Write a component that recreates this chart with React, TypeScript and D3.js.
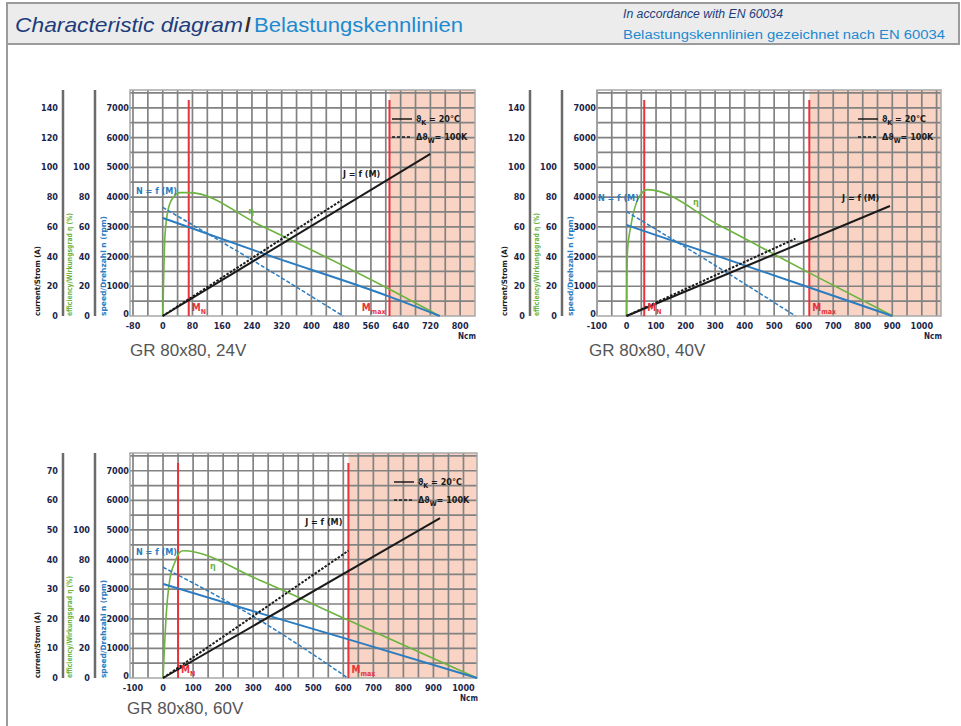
import * as d3 from "d3";
import React, { useEffect, useRef } from "react";

type Pt = [number, number];

// x = torque M (Ncm); speed n (rpm), current J (A), efficiency η (%)
// GR 80x80, 24V
const speed24: Pt[] = [[0, 3300], [275, 2080], [610, 650], [745, 0]];
const speedHot24: Pt[] = [[0, 3650], [262, 1720], [485, 0]];
const eff24: Pt[] = [[0, 0], [2, 20], [6, 54], [15, 72], [29, 80], [47, 83], [73, 83], [262, 61], [610, 18], [745, 0]];
const current24: Pt[] = [[0, 0], [720, 109]];
const currentHot24: Pt[] = [[0, 0], [482, 78]];
const xTicks24 = [-80, 0, 80, 160, 240, 320, 400, 480, 560, 640, 720, 800];
const currentTicks24 = [0, 20, 40, 60, 80, 100, 120, 140];

// GR 80x80, 40V
const speed40: Pt[] = [[0, 3060], [316, 1990], [619, 960], [900, 0]];
const speedHot40: Pt[] = [[0, 3510], [362, 1320], [572, 0]];
const eff40: Pt[] = [[0, 0], [3, 43], [15, 61], [37, 78], [53, 83], [71, 85], [314, 61], [619, 29], [902, 0]];
const current40: Pt[] = [[0, 0], [892, 74]];
const currentHot40: Pt[] = [[0, 0], [572, 52]];
const xTicks40 = [-100, 0, 100, 200, 300, 400, 500, 600, 700, 800, 900, 1000];
const currentTicks40 = [0, 20, 40, 60, 80, 100, 120, 140];

// GR 80x80, 60V
const speed60: Pt[] = [[0, 3180], [322, 2190], [617, 1306], [1045, 0]];
const speedHot60: Pt[] = [[0, 3740], [330, 1900], [615, 0]];
const eff60: Pt[] = [[0, 0], [11, 44], [22, 66], [39, 78], [56, 85], [67, 86], [322, 66], [617, 39], [1045, 0]];
const current60: Pt[] = [[0, 0], [922, 54]];
const currentHot60: Pt[] = [[0, 0], [617, 43]];
const xTicks60 = [-100, 0, 100, 200, 300, 400, 500, 600, 700, 800, 900, 1000];
const currentTicks60 = [0, 10, 20, 30, 40, 50, 60, 70];

const effTicks = [0, 20, 40, 60, 80, 100];
const speedTicks = [0, 1000, 2000, 3000, 4000, 5000, 6000, 7000];

const FONT_C = "'Liberation Sans Narrow', 'DejaVu Sans Condensed', 'Liberation Sans', sans-serif";
const FONT = "'Liberation Sans', Arial, sans-serif";
const NAVY = "#1b1f4a";
const BLUE = "#2b7cc0";
const GREEN = "#6cb33f";
const RED = "#e8323c";
const SPEED_MAX = 7600;

const panels = [
    {
        title: "GR 80x80, 24V", titleX: 130, titleY: 356,
        left: 130, top: 90, right: 475, bottom: 316, xDomain: [-88, 840], gridStep: 40,
        xTicks: xTicks24, currentTicks: currentTicks24, curFactor: 50,
        speed: speed24, speedHot: speedHot24, eff: eff24, current: current24, currentHot: currentHot24,
        mN: 70, mMax: 610, mMaxLeft: true,
        jLabel: [485, 4765], nLabel: [-72, 4200], etaLabel: [230, 3530],
        titleLens: [70, 103, 100],
    },
    {
        title: "GR 80x80, 40V", titleX: 589, titleY: 356,
        left: 597, top: 90, right: 941, bottom: 316, xDomain: [-100, 1065], gridStep: 50,
        xTicks: xTicks40, currentTicks: currentTicks40, curFactor: 50,
        speed: speed40, speedHot: speedHot40, eff: eff40, current: current40, currentHot: currentHot40,
        mN: 60, mMax: 619, mMaxLeft: false,
        jLabel: [730, 3968], nLabel: [-97, 3968], etaLabel: [225, 3843],
        titleLens: [70, 103, 100],
    },
    {
        title: "GR 80x80, 60V", titleX: 127, titleY: 714,
        left: 130, top: 453, right: 477, bottom: 678, xDomain: [-110, 1045], gridStep: 50,
        xTicks: xTicks60, currentTicks: currentTicks60, curFactor: 100,
        speed: speed60, speedHot: speedHot60, eff: eff60, current: current60, currentHot: currentHot60,
        mN: 50, mMax: 617, mMaxLeft: false,
        jLabel: [473, 5280], nLabel: [-90, 4267], etaLabel: [156, 3784],
        titleLens: [66, 102, 98],
    },
];

const drawPanel = (svg, p) => {
    const g = svg.append("g");
    const x = d3.scaleLinear().domain(p.xDomain).range([p.left, p.right]);
    const y = d3.scaleLinear().domain([0, SPEED_MAX]).range([p.bottom, p.top]);
    const yCur = d3.scaleLinear().domain([0, SPEED_MAX / p.curFactor]).range([p.bottom, p.top]);
    const yEff = d3.scaleLinear().domain([0, SPEED_MAX / 50]).range([p.bottom, p.top]);

    // plot area + overload zone
    g.append("rect").attr("x", p.left).attr("y", p.top)
        .attr("width", p.right - p.left).attr("height", p.bottom - p.top).attr("fill", "#fff");
    g.append("rect").attr("x", x(p.mMax)).attr("y", p.top)
        .attr("width", p.right - x(p.mMax)).attr("height", p.bottom - p.top).attr("fill", "#f9d4c4");

    // grid
    const vLines = d3.range(Math.ceil(p.xDomain[0] / p.gridStep) * p.gridStep, p.xDomain[1], p.gridStep);
    g.selectAll(".vgrid").data(vLines).enter().append("line")
        .attr("x1", d => x(d)).attr("x2", d => x(d))
        .attr("y1", p.top).attr("y2", p.bottom)
        .attr("stroke", "#828282").attr("stroke-width", 1.7);
    g.selectAll(".hgrid").data(d3.range(500, SPEED_MAX, 500)).enter().append("line")
        .attr("x1", p.left).attr("x2", p.right)
        .attr("y1", d => y(d)).attr("y2", d => y(d))
        .attr("stroke", "#828282").attr("stroke-width", 1.7);
    g.append("rect").attr("x", p.left).attr("y", p.top)
        .attr("width", p.right - p.left).attr("height", p.bottom - p.top)
        .attr("fill", "none").attr("stroke", "#a8a8a8").attr("stroke-width", 1.5);

    // left axes
    const ax1 = p.left - 67;
    const ax2 = p.left - 35;
    [ax1, ax2].forEach(ax => {
        g.append("line").attr("x1", ax).attr("x2", ax).attr("y1", p.top).attr("y2", p.bottom)
            .attr("stroke", "#6b6b6b").attr("stroke-width", 2.5);
    });
    const tickText = (sel) => sel
        .attr("font-family", FONT_C).attr("font-weight", "bold").attr("font-size", 9)
        .attr("fill", NAVY).attr("dominant-baseline", "central");
    g.selectAll(".curTick").data(p.currentTicks).enter().append("text")
        .call(tickText).attr("text-anchor", "end")
        .attr("x", ax1 - 5).attr("y", d => yCur(d)).text(d => d);
    g.selectAll(".effTick").data(effTicks).enter().append("text")
        .call(tickText).attr("text-anchor", "end")
        .attr("x", ax2 - 5).attr("y", d => yEff(d)).text(d => d);
    g.selectAll(".spdTick").data(speedTicks).enter().append("text")
        .call(tickText).attr("text-anchor", "end")
        .attr("x", p.left - 1).attr("y", d => y(d) - (d === 0 ? 2 : 0)).text(d => d);
    g.selectAll(".xTick").data(p.xTicks).enter().append("text")
        .call(tickText).attr("text-anchor", "middle")
        .attr("x", d => x(d)).attr("y", p.bottom + 10).text(d => d);
    g.append("text").call(tickText).attr("font-size", 8).attr("text-anchor", "middle")
        .attr("x", p.right - 8).attr("y", p.bottom + 20).text("Ncm");

    // rotated axis titles
    const axisTitles = [
        { text: "current/Strom (A)", x: p.left - 93, color: "#1a1a1a" },
        { text: "efficiency/Wirkungsgrad \u03b7 (%)", x: p.left - 61, color: GREEN },
        { text: "speed/Drehzahl n (rpm)", x: p.left - 27, color: BLUE },
    ];
    axisTitles.forEach((t, i) => {
        g.append("text")
            .attr("transform", `translate(${t.x},${p.bottom}) rotate(-90)`)
            .attr("font-family", FONT_C).attr("font-weight", "bold").attr("font-size", 7.5)
            .attr("fill", t.color).attr("dominant-baseline", "central")
            .attr("textLength", p.titleLens[i]).attr("lengthAdjust", "spacingAndGlyphs")
            .text(t.text);
    });

    // rated / max torque lines
    [p.mN, p.mMax].forEach(m => {
        g.append("line").attr("x1", x(m)).attr("x2", x(m)).attr("y1", p.top + 10).attr("y2", p.bottom)
            .attr("stroke", RED).attr("stroke-width", 2);
    });

    // curves
    const line = (sc) => d3.line<Pt>().x(d => x(d[0])).y(d => sc(d[1])).curve(d3.curveMonotoneX);
    const curves = [
        { data: p.eff, sc: yEff, color: GREEN, w: 1.6, dash: null },
        { data: p.speedHot, sc: y, color: BLUE, w: 1.5, dash: "4,2" },
        { data: p.speed, sc: y, color: BLUE, w: 2, dash: null },
        { data: p.currentHot, sc: yCur, color: "#1a1a1a", w: 2, dash: "2.5,1.5" },
        { data: p.current, sc: yCur, color: "#1a1a1a", w: 2, dash: null },
    ];
    curves.forEach(c => {
        g.append("path").datum(c.data).attr("d", line(c.sc))
            .attr("fill", "none").attr("stroke", c.color).attr("stroke-width", c.w)
            .attr("stroke-dasharray", c.dash);
    });

    // curve labels
    const label = (pos, txt, color) => g.append("text")
        .attr("x", x(pos[0])).attr("y", y(pos[1]))
        .attr("font-family", FONT_C).attr("font-weight", "bold").attr("font-size", 9)
        .attr("fill", color).attr("dominant-baseline", "central").text(txt);
    label(p.jLabel, "J = f (M)", "#1a1a1a");
    label(p.nLabel, "N = f (M)", BLUE);
    label(p.etaLabel, "\u03b7", GREEN);

    // M_N and M_max labels
    const mLabel = (m, sub, anchorLeft) => {
        const t = g.append("text")
            .attr("x", anchorLeft ? x(m) - 4 : x(m) + 3).attr("y", p.bottom - 5)
            .attr("text-anchor", anchorLeft ? "end" : "start")
            .attr("font-family", FONT_C).attr("font-weight", "bold").attr("font-size", 10).attr("fill", RED);
        t.append("tspan").text("M");
        t.append("tspan").attr("dy", 2.5).attr("font-size", 7).text(sub);
    };
    mLabel(p.mN, "N", false);
    mLabel(p.mMax, "max", p.mMaxLeft);

    // legend
    const lg = [
        { dash: null, sym: "\u03d1", sub: "K", rest: " = 20\u00b0C" },
        { dash: "3,2", sym: "\u0394\u03d1", sub: "W", rest: "= 100K" },
    ];
    lg.forEach((l, i) => {
        const ly = p.top + 29 + i * 18;
        g.append("line").attr("x1", p.right - 83).attr("x2", p.right - 63).attr("y1", ly).attr("y2", ly)
            .attr("stroke", "#1a1a1a").attr("stroke-width", 1.5).attr("stroke-dasharray", l.dash);
        const t = g.append("text").attr("x", p.right - 59).attr("y", ly + 3)
            .attr("font-family", FONT_C).attr("font-weight", "bold").attr("font-size", 9).attr("fill", "#1a1a1a");
        t.append("tspan").text(l.sym);
        t.append("tspan").attr("dy", 2.5).attr("font-size", 7).text(l.sub);
        t.append("tspan").attr("dy", -2.5).text(l.rest);
    });

    // panel title
    g.append("text").attr("x", p.titleX).attr("y", p.titleY)
        .attr("font-family", FONT).attr("font-size", 17).attr("fill", "#555").text(p.title);
};

const App = () => {
    const svgRef = useRef(null);

    useEffect(() => {
        const svg = d3.select(svgRef.current);
        svg.selectAll("*").remove();

        // header bar
        svg.append("rect").attr("x", 7).attr("y", 3).attr("width", 952).attr("height", 41)
            .attr("fill", "#ececec").attr("stroke", "#9b9b9b").attr("stroke-width", 2);
        svg.append("line").attr("x1", 7).attr("x2", 7).attr("y1", 44).attr("y2", 726)
            .attr("stroke", "#9b9b9b").attr("stroke-width", 2);
        svg.append("text").attr("x", 15).attr("y", 32).attr("font-family", FONT).attr("font-size", 21)
            .attr("font-style", "italic").attr("fill", "#1d3d7c")
            .attr("textLength", 228).attr("lengthAdjust", "spacingAndGlyphs").text("Characteristic diagram");
        svg.append("text").attr("x", 245).attr("y", 32).attr("font-family", FONT).attr("font-size", 21)
            .attr("font-weight", "bold").attr("fill", "#3d2c1e").text("/");
        svg.append("text").attr("x", 254).attr("y", 32).attr("font-family", FONT).attr("font-size", 21)
            .attr("fill", "#2189d0")
            .attr("textLength", 209).attr("lengthAdjust", "spacingAndGlyphs").text("Belastungskennlinien");
        svg.append("text").attr("x", 623).attr("y", 18).attr("font-family", FONT).attr("font-size", 12)
            .attr("font-style", "italic").attr("fill", "#1d3d7c")
            .attr("textLength", 160).attr("lengthAdjust", "spacingAndGlyphs").text("In accordance with EN 60034");
        svg.append("text").attr("x", 623).attr("y", 39).attr("font-family", FONT).attr("font-size", 12)
            .attr("fill", "#2189d0")
            .attr("textLength", 322).attr("lengthAdjust", "spacingAndGlyphs")
            .text("Belastungskennlinien gezeichnet nach EN 60034");

        panels.forEach(p => drawPanel(svg, p));
    }, []);

    return (
        <svg
            ref={svgRef}
            width={961}
            height={726}
            style={{ position: "absolute", left: 0, top: 0, background: "#fff" }}
        ></svg>
    );
};

export default App;
